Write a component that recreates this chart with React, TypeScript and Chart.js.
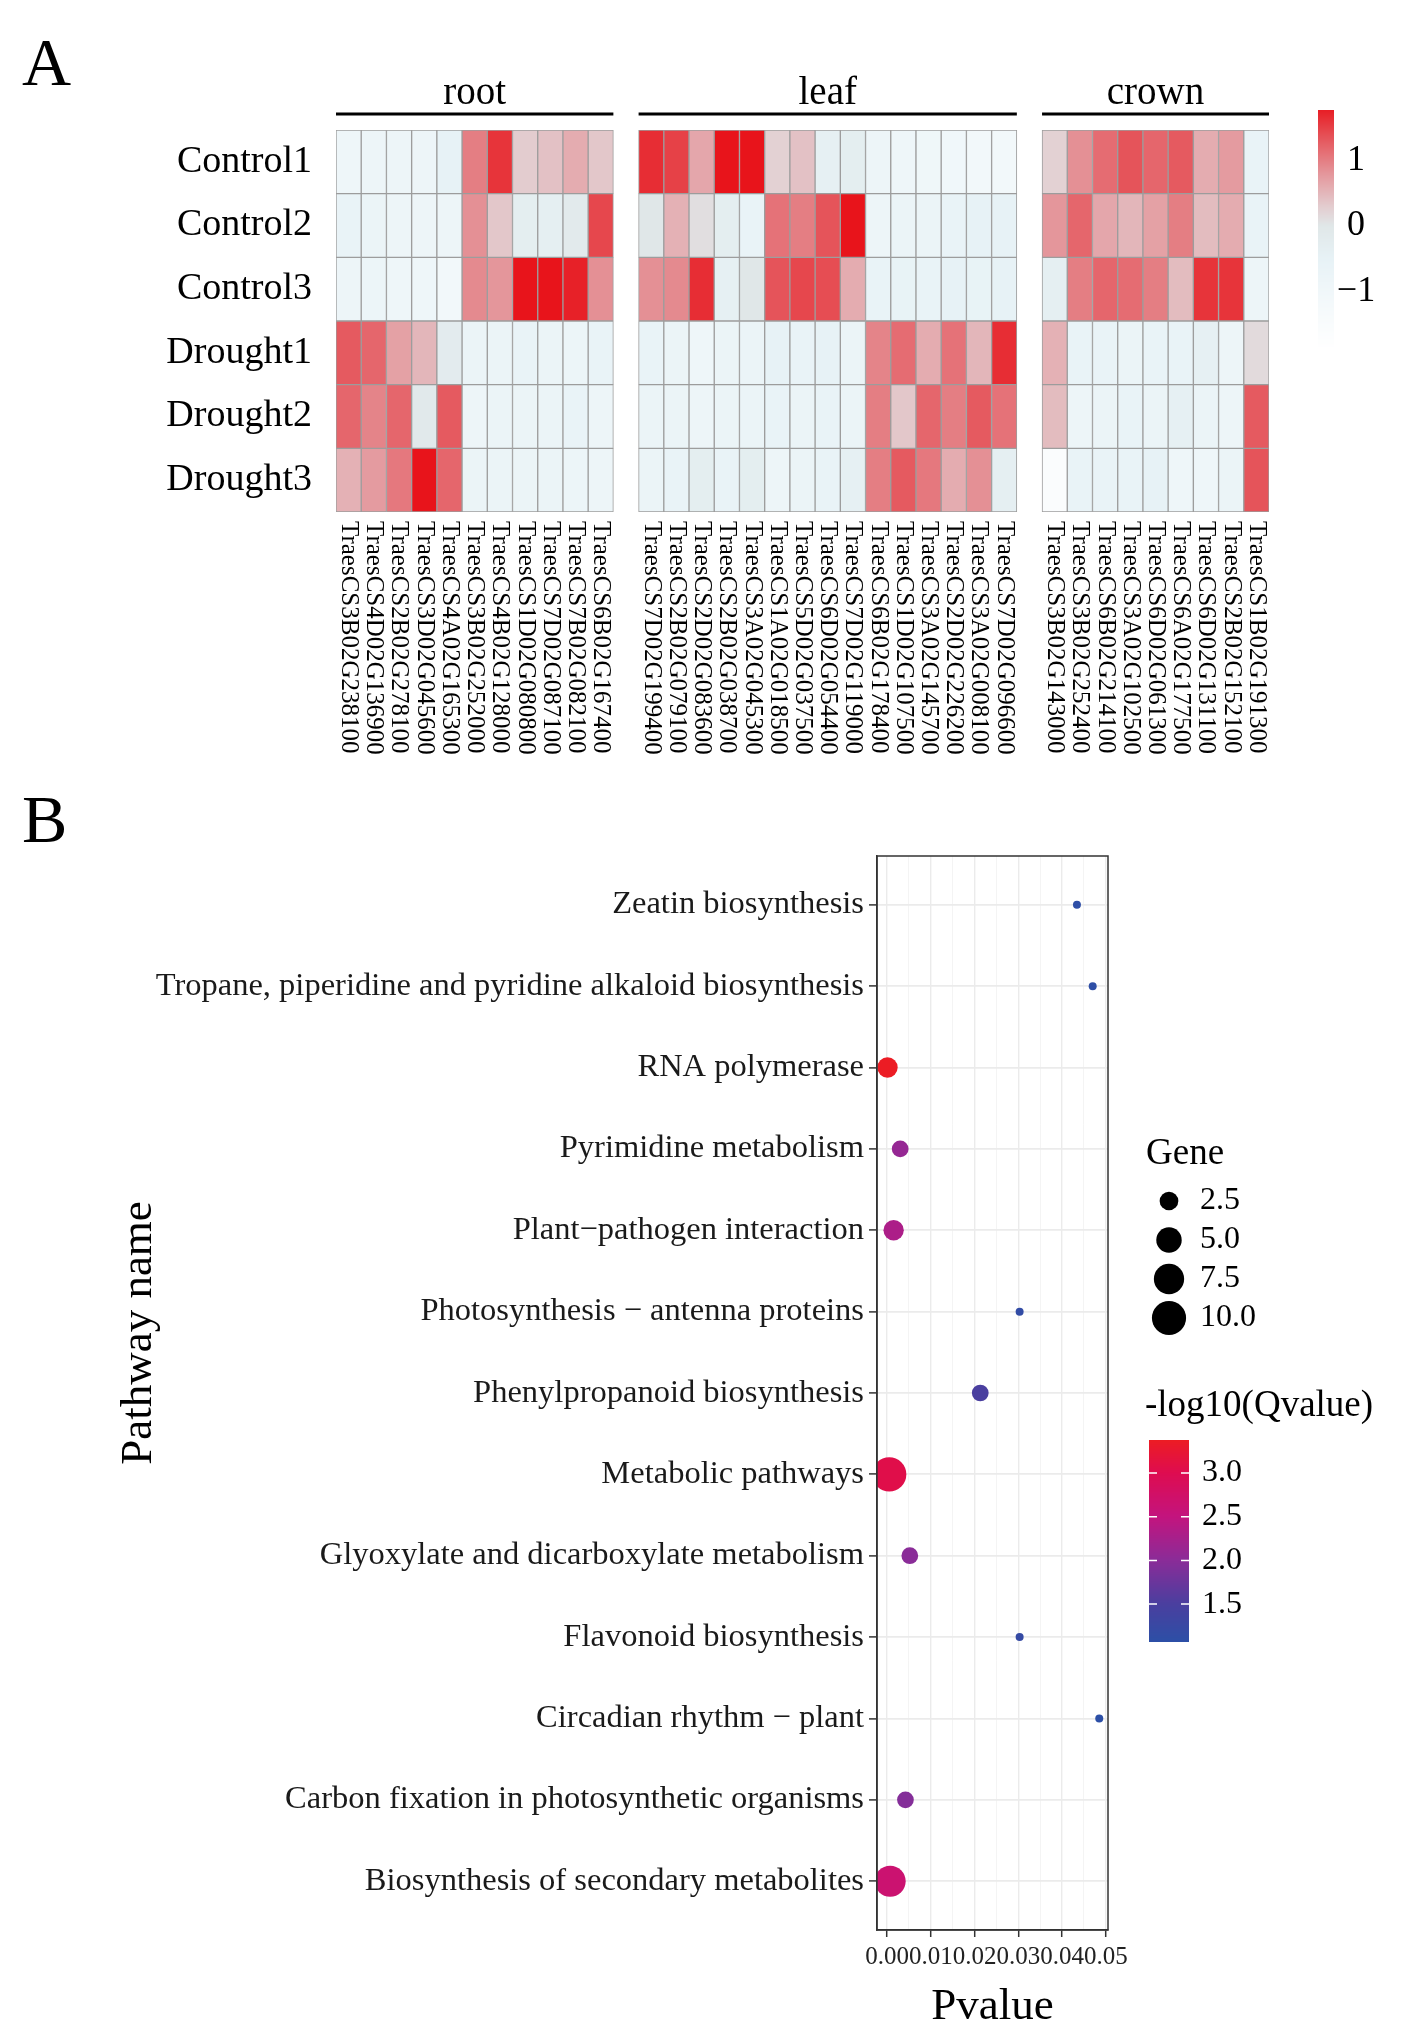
import React, { useEffect, useRef } from "react";
import { Chart, registerables } from "chart.js";
Chart.register(...registerables);

const FONT = "'Liberation Serif', 'Times New Roman', serif";

// ---------- Panel A data ----------
const sampleNames = ["Control1", "Control2", "Control3", "Drought1", "Drought2", "Drought3"];
const tissueNames = ["root", "leaf", "crown"];
const rootGenes = [
  "TraesCS3B02G238100", "TraesCS4D02G136900", "TraesCS2B02G278100", "TraesCS3D02G045600",
  "TraesCS4A02G165300", "TraesCS3B02G252000", "TraesCS4B02G128000", "TraesCS1D02G080800",
  "TraesCS7D02G087100", "TraesCS7B02G082100", "TraesCS6B02G167400",
];
const leafGenes = [
  "TraesCS7D02G199400", "TraesCS2B02G079100", "TraesCS2D02G083600", "TraesCS2B02G038700",
  "TraesCS3A02G045300", "TraesCS1A02G018500", "TraesCS5D02G037500", "TraesCS6D02G054400",
  "TraesCS7D02G119000", "TraesCS6B02G178400", "TraesCS1D02G107500", "TraesCS3A02G145700",
  "TraesCS2D02G226200", "TraesCS3A02G008100", "TraesCS7D02G096600",
];
const crownGenes = [
  "TraesCS3B02G143000", "TraesCS3B02G252400", "TraesCS6B02G214100", "TraesCS3A02G102500",
  "TraesCS6D02G061300", "TraesCS6A02G177500", "TraesCS6D02G131100", "TraesCS2B02G152100",
  "TraesCS1B02G191300",
];
// rows = samples, columns = genes
const rootValues = [
  [-0.9, -0.8, -0.8, -0.8, -0.5, 1.0, 1.6, 0.3, 0.4, 0.6, 0.35],
  [-0.6, -0.7, -0.8, -0.8, -0.8, 0.85, 0.35, -0.3, -0.35, -0.15, 1.45],
  [-0.8, -0.75, -0.85, -0.85, -1.1, 0.9, 0.8, 1.85, 1.9, 1.75, 0.85],
  [1.3, 1.2, 0.7, 0.5, -0.2, -0.7, -0.7, -0.6, -0.7, -0.75, -0.6],
  [1.2, 0.95, 1.2, -0.1, 1.3, -0.8, -0.7, -0.7, -0.7, -0.6, -0.8],
  [0.55, 0.75, 1.05, 1.85, 1.2, -0.7, -0.7, -0.7, -0.7, -0.75, -0.8],
];
const leafValues = [
  [1.65, 1.5, 0.65, 1.95, 1.95, 0.25, 0.4, -0.4, -0.3, -0.8, -0.9, -0.95, -1.0, -1.1, -1.1],
  [0.0, 0.55, 0.1, -0.3, -0.6, 1.1, 1.0, 1.35, 1.85, -0.8, -0.7, -0.7, -0.6, -0.5, -0.5],
  [0.85, 0.9, 1.65, -0.4, 0.0, 1.35, 1.45, 1.4, 0.6, -0.6, -0.55, -0.6, -0.5, -0.55, -0.5],
  [-0.6, -0.7, -0.9, -0.7, -0.7, -0.5, -0.6, -0.5, -0.7, 0.95, 1.15, 0.6, 1.1, 0.5, 1.65],
  [-0.7, -0.7, -0.8, -0.7, -0.7, -0.6, -0.7, -0.6, -0.7, 1.0, 0.35, 1.2, 1.0, 1.3, 1.1],
  [-0.7, -0.6, -0.3, -0.6, -0.3, -0.8, -0.7, -0.6, -0.4, 1.0, 1.3, 1.05, 0.6, 0.85, -0.35],
];
const crownValues = [
  [0.25, 0.85, 1.15, 1.35, 1.2, 1.3, 0.6, 0.75, -0.6],
  [0.8, 1.2, 0.65, 0.5, 0.7, 1.0, 0.45, 0.6, -0.6],
  [-0.35, 1.0, 1.2, 1.15, 1.0, 0.45, 1.6, 1.6, -0.8],
  [0.55, -0.6, -0.6, -0.7, -0.6, -0.6, -0.4, -0.8, 0.15],
  [0.45, -0.8, -0.7, -0.6, -0.7, -0.4, -0.7, -0.8, 1.3],
  [-1.6, -0.6, -0.6, -0.6, -0.5, -0.9, -0.9, -0.7, 1.35],
];
const heatLegendTicks = [1, 0, -1];

// ---------- Panel B data ----------
const pathways = [
  "Zeatin biosynthesis",
  "Tropane, piperidine and pyridine alkaloid biosynthesis",
  "RNA polymerase",
  "Pyrimidine metabolism",
  "Plant\u2212pathogen interaction",
  "Photosynthesis \u2212 antenna proteins",
  "Phenylpropanoid biosynthesis",
  "Metabolic pathways",
  "Glyoxylate and dicarboxylate metabolism",
  "Flavonoid biosynthesis",
  "Circadian rhythm \u2212 plant",
  "Carbon fixation in photosynthetic organisms",
  "Biosynthesis of secondary metabolites",
];
const pValues = [0.0434, 0.047, 0.0001, 0.003, 0.0015, 0.0303, 0.0213, 0.0005, 0.0052, 0.0303, 0.0485, 0.0042, 0.0007];
const geneCounts = [1, 1, 3, 2, 3, 1, 2, 10, 2, 1, 1, 2, 8];
const negLog10Q = [1.1, 1.1, 3.37, 2.1, 2.3, 1.15, 1.5, 3.05, 2.0, 1.2, 1.07, 1.95, 2.65];
const pTicks = [0, 0.005, 0.01, 0.015, 0.02, 0.025, 0.03, 0.035, 0.04, 0.045, 0.05];
const geneLegendValues = [2.5, 5.0, 7.5, 10.0];
const qLegendTicks = [1.5, 2.0, 2.5, 3.0];

// ---------- colour helpers ----------
type Stop = [number, number[]];
const heatStops: Stop[] = [
  [-1.9, [255, 255, 255]],
  [-1.2, [244, 249, 251]],
  [-0.5, [231, 242, 246]],
  [0.0, [224, 231, 232]],
  [0.3, [227, 204, 207]],
  [0.8, [228, 150, 155]],
  [1.3, [229, 90, 96]],
  [1.85, [232, 20, 27]],
];
const qStops: Stop[] = [
  [1.07, [44, 79, 166]],
  [1.5, [74, 63, 159]],
  [2.0, [138, 44, 152]],
  [2.5, [195, 20, 126]],
  [3.0, [222, 12, 80]],
  [3.37, [236, 28, 36]],
];
function interp(stops: Stop[], v: number): string {
  if (v <= stops[0][0]) return `rgb(${stops[0][1].join(",")})`;
  for (let i = 1; i < stops.length; i++) {
    if (v <= stops[i][0]) {
      const [a, ca] = stops[i - 1];
      const [b, cb] = stops[i];
      const t = (v - a) / (b - a);
      const c = ca.map((x, k) => Math.round(x + (cb[k] - x) * t));
      return `rgb(${c.join(",")})`;
    }
  }
  return `rgb(${stops[stops.length - 1][1].join(",")})`;
}
const heatColor = (v: number) => interp(heatStops, v);
const qColor = (v: number) => interp(qStops, v);
const geneRadius = (g: number) => 4 + 13.8 * Math.sqrt(Math.max(0, g - 1) / 10);

export default function App() {
  const heatRef = useRef<HTMLCanvasElement>(null);
  const dotRef = useRef<HTMLCanvasElement>(null);

  useEffect(() => {
    document.body.style.margin = "0";
    const groups = [
      { name: tissueNames[0], genes: rootGenes, values: rootValues },
      { name: tissueNames[1], genes: leafGenes, values: leafValues },
      { name: tissueNames[2], genes: crownGenes, values: crownValues },
    ];
    const categories: string[] = [];
    const groupIdx: { name: string; first: number; last: number }[] = [];
    groups.forEach((g, gi) => {
      if (gi > 0) categories.push(`gap${gi}`);
      const first = categories.length;
      g.genes.forEach((x) => categories.push(x));
      groupIdx.push({ name: g.name, first, last: categories.length - 1 });
    });
    const cells: any[] = [];
    groups.forEach((g) => {
      g.values.forEach((row, r) => {
        row.forEach((v, c) => cells.push({ x: g.genes[c], y: [r, r + 1], v }));
      });
    });

    const heatPlugin = {
      id: "heatExtras",
      afterDraw(chart: any) {
        const ctx = chart.ctx;
        const xs = chart.scales.x;
        const half = (xs.getPixelForValue(1) - xs.getPixelForValue(0)) / 2;
        ctx.save();
        ctx.fillStyle = "#000";
        // column labels
        ctx.font = `25px ${FONT}`;
        ctx.textAlign = "left";
        ctx.textBaseline = "middle";
        categories.forEach((lab, i) => {
          if (lab.startsWith("gap")) return;
          const x = xs.getPixelForValue(i);
          ctx.save();
          ctx.translate(x, 521);
          ctx.rotate(Math.PI / 2);
          ctx.fillText(lab, 0, 0);
          ctx.restore();
        });
        // group headers
        groupIdx.forEach((g) => {
          const l = xs.getPixelForValue(g.first) - half;
          const r = xs.getPixelForValue(g.last) + half;
          ctx.fillRect(l, 112.5, r - l, 3);
          ctx.font = `39px ${FONT}`;
          ctx.textAlign = "center";
          ctx.textBaseline = "alphabetic";
          ctx.fillText(g.name, (l + r) / 2, 104);
        });
        // colour legend
        const top = 110, bottom = 347, zeroY = 226, unit = 65.5;
        for (let y = top; y < bottom; y++) {
          const v = (zeroY - (y + 0.5)) / unit;
          ctx.fillStyle = heatColor(v);
          ctx.fillRect(1318, y, 16, 1);
        }
        ctx.fillStyle = "#000";
        ctx.font = `36px ${FONT}`;
        ctx.textAlign = "center";
        ctx.textBaseline = "middle";
        heatLegendTicks.forEach((t) => {
          const lab = t < 0 ? `\u2212${Math.abs(t)}` : `${t}`;
          ctx.fillText(lab, 1356, zeroY - t * unit);
        });
        ctx.restore();
      },
    };

    const heat = new Chart(heatRef.current!, {
      type: "bar",
      data: {
        labels: categories,
        datasets: [
          {
            data: cells,
            backgroundColor: (c: any) => heatColor(c.raw ? c.raw.v : 0),
            borderColor: "#9d9d9d",
            borderWidth: 1,
            borderSkipped: false,
            barPercentage: 1,
            categoryPercentage: 1,
          } as any,
        ],
      },
      options: {
        responsive: false,
        animation: false,
        layout: { padding: { top: 130, right: 135, left: 0, bottom: 0 } },
        plugins: { legend: { display: false }, tooltip: { enabled: false } },
        scales: {
          x: {
            type: "category",
            offset: true,
            grid: { display: false },
            border: { display: false },
            ticks: { display: false },
            afterFit: (s: any) => { s.height = 268; },
          },
          y: {
            type: "linear",
            min: 0,
            max: 6,
            reverse: true,
            grid: { display: false, drawTicks: false },
            border: { display: false },
            afterBuildTicks: (s: any) => { s.ticks = sampleNames.map((_, i) => ({ value: i + 0.5 })); },
            afterFit: (s: any) => { s.width = 336; },
            ticks: {
              padding: 24,
              color: "#000",
              font: { family: FONT, size: 38 },
              callback: (v: any) => sampleNames[Math.floor(Number(v))],
            },
          },
        },
      },
      plugins: [heatPlugin],
    });

    // ---------- Panel B ----------
    const OFF = 780;
    const dotPlugin = {
      id: "dotExtras",
      afterDraw(chart: any) {
        const ctx = chart.ctx;
        const a = chart.chartArea;
        ctx.save();
        ctx.strokeStyle = "#333";
        ctx.lineWidth = 1.5;
        ctx.strokeRect(a.left, a.top, a.right - a.left, a.bottom - a.top);
        ctx.fillStyle = "#000";
        // y title
        ctx.save();
        ctx.translate(139, 1333 - OFF);
        ctx.rotate(-Math.PI / 2);
        ctx.font = `45px ${FONT}`;
        ctx.textAlign = "center";
        ctx.textBaseline = "middle";
        ctx.fillText("Pathway name", 0, 0);
        ctx.restore();
        // size legend
        ctx.textAlign = "left";
        ctx.textBaseline = "middle";
        ctx.font = `37px ${FONT}`;
        ctx.fillText("Gene", 1146, 1154 - OFF);
        ctx.font = `32px ${FONT}`;
        const ys = [1201, 1240, 1279, 1318];
        geneLegendValues.forEach((g, i) => {
          ctx.beginPath();
          ctx.arc(1169, ys[i] - OFF, geneRadius(g), 0, Math.PI * 2);
          ctx.fillStyle = "#000";
          ctx.fill();
          ctx.fillText(g.toFixed(1), 1200, ys[i] - OFF);
        });
        // colour legend
        ctx.font = `37px ${FONT}`;
        ctx.fillText("-log10(Qvalue)", 1145, 1406 - OFF);
        const yv = (v: number) => 1473 - OFF - (v - 3.0) * 87.4;
        const vTop = 3.37, vBot = 1.07;
        for (let y = Math.floor(yv(vTop)); y < yv(vBot); y++) {
          const v = 3.0 - (y + 0.5 - (1473 - OFF)) / 87.4;
          ctx.fillStyle = qColor(v);
          ctx.fillRect(1149, y, 40, 1);
        }
        ctx.strokeStyle = "#fff";
        ctx.lineWidth = 1.5;
        ctx.font = `32px ${FONT}`;
        qLegendTicks.forEach((t) => {
          const y = yv(t);
          ctx.beginPath();
          ctx.moveTo(1149, y); ctx.lineTo(1157, y);
          ctx.moveTo(1181, y); ctx.lineTo(1189, y);
          ctx.stroke();
          ctx.fillStyle = "#000";
          ctx.fillText(t.toFixed(1), 1202, y);
        });
        ctx.restore();
      },
    };

    const pts = pathways.map((p, i) => ({ x: pValues[i], y: i, g: geneCounts[i], q: negLog10Q[i] }));
    const dot = new Chart(dotRef.current!, {
      type: "scatter",
      data: {
        datasets: [
          {
            data: pts,
            pointRadius: (c: any) => geneRadius(c.raw ? c.raw.g : 1),
            pointBackgroundColor: (c: any) => qColor(c.raw ? c.raw.q : 1),
            pointBorderWidth: 0,
            pointHoverRadius: (c: any) => geneRadius(c.raw ? c.raw.g : 1),
          } as any,
        ],
      },
      options: {
        responsive: false,
        animation: false,
        layout: { padding: { top: 76, right: 296, left: 0, bottom: 0 } },
        plugins: { legend: { display: false }, tooltip: { enabled: false } },
        scales: {
          x: {
            type: "linear",
            min: -0.0023,
            max: 0.0505,
            afterBuildTicks: (s: any) => { s.ticks = pTicks.map((v) => ({ value: v })); },
            afterFit: (s: any) => { s.height = 114; },
            grid: {
              color: (c: any) => (c.index % 2 === 0 ? "#ebebeb" : "#f3f3f3"),
              lineWidth: (c: any) => (c.index % 2 === 0 ? 1.4 : 0.9),
              tickColor: (c: any) => (c.index % 2 === 0 ? "#333" : "rgba(0,0,0,0)"),
              tickLength: 7,
              tickWidth: 1.5,
            },
            border: { display: true, color: "#333", width: 1.5 },
            ticks: {
              autoSkip: false,
              maxRotation: 0,
              minRotation: 0,
              padding: 5,
              color: "#222",
              font: { family: FONT, size: 25 },
              callback: (v: any, i: number) => (i % 2 === 0 ? Number(v).toFixed(2) : ""),
            },
            title: {
              display: true,
              text: "Pvalue",
              color: "#000",
              font: { family: FONT, size: 45 },
              padding: { top: 0, bottom: 10 },
            },
          },
          y: {
            type: "linear",
            min: -0.6,
            max: pathways.length - 0.4,
            reverse: true,
            afterBuildTicks: (s: any) => { s.ticks = pathways.map((_, i) => ({ value: i })); },
            afterFit: (s: any) => { s.width = 877; },
            grid: {
              color: "#ebebeb",
              lineWidth: 1.8,
              tickColor: "#333",
              tickLength: 8,
              tickWidth: 1.5,
            },
            border: { display: true, color: "#333", width: 1.5 },
            ticks: {
              padding: 5,
              color: "#1a1a1a",
              font: { family: FONT, size: 32.5 },
              callback: (v: any) => pathways[Math.round(Number(v))],
            },
          },
        },
      },
      plugins: [dotPlugin],
    });

    return () => {
      heat.destroy();
      dot.destroy();
    };
  }, []);

  const letter: React.CSSProperties = {
    position: "absolute",
    left: 22,
    fontFamily: FONT,
    fontSize: 68,
    lineHeight: "68px",
    color: "#000",
  };

  return (
    <div style={{ position: "relative", width: 1404, height: 2044, background: "#fff", overflow: "hidden" }}>
      <canvas ref={heatRef} width={1404} height={780} style={{ position: "absolute", left: 0, top: 0, width: 1404, height: 780 }} />
      <canvas ref={dotRef} width={1404} height={1264} style={{ position: "absolute", left: 0, top: 780, width: 1404, height: 1264 }} />
      <div style={{ ...letter, top: 28 }}>A</div>
      <div style={{ ...letter, top: 785 }}>B</div>
    </div>
  );
}
